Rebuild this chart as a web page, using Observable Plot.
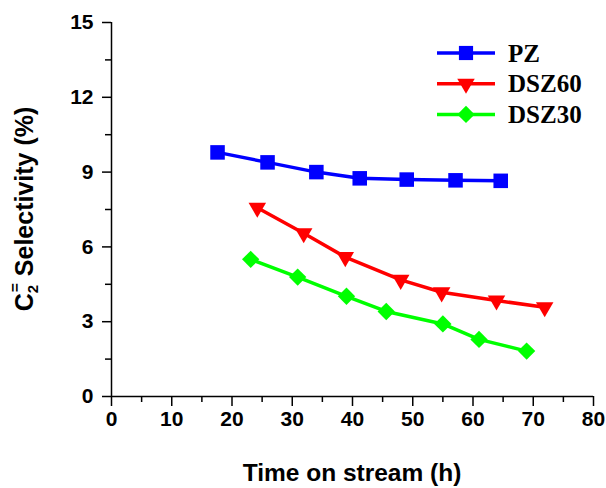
<!DOCTYPE html>
<html>
<head>
<meta charset="utf-8">
<script src="https://cdn.jsdelivr.net/npm/d3@7"></script>
<script src="https://cdn.jsdelivr.net/npm/@observablehq/plot@0.6"></script>
<style>
  html, body { margin: 0; padding: 0; background: #fff; }
  #chart svg { display: block; }
</style>
</head>
<body>
<div id="chart"></div>
<script>
// ---- data ----
const seriesNames = ["PZ", "DSZ60", "DSZ30"];
const pzTime    = [17.6, 25.9, 34.0, 41.2, 49.0, 57.1, 64.6];
const pzSel     = [9.79, 9.39, 9.00, 8.75, 8.70, 8.67, 8.65];
const dsz60Time = [24.2, 31.9, 38.8, 48.0, 54.8, 63.9, 71.9];
const dsz60Sel  = [7.57, 6.55, 5.59, 4.68, 4.18, 3.85, 3.58];
const dsz30Time = [23.1, 30.9, 39.0, 45.6, 55.0, 61.0, 68.9];
const dsz30Sel  = [5.50, 4.79, 4.02, 3.41, 2.91, 2.29, 1.82];
const xTicks = [0, 10, 20, 30, 40, 50, 60, 70, 80];
const yTicks = [0, 3, 6, 9, 12, 15];
const xMinorTicks = [5, 15, 25, 35, 45, 55, 65, 75];
const yMinorTicks = [1.5, 4.5, 7.5, 10.5, 13.5];

// ---- styles ----
const colors = {PZ: "#0000ff", DSZ60: "#ff0000", DSZ30: "#00ff00"};
const symbols = {PZ: "square", DSZ60: "triangle", DSZ30: "diamond2"};
const radii = {PZ: 8.2, DSZ60: 6.5, DSZ30: 7.8};
const rotates = {PZ: 0, DSZ60: 180, DSZ30: 0};

const toRows = (name, xs, ys) => xs.map((t, i) => ({series: name, time: t, sel: ys[i]}));
const rows = {
  PZ: toRows("PZ", pzTime, pzSel),
  DSZ60: toRows("DSZ60", dsz60Time, dsz60Sel),
  DSZ30: toRows("DSZ30", dsz30Time, dsz30Sel)
};

const sans = "'Liberation Sans', Arial, sans-serif";
const serif = "'Liberation Serif', 'Times New Roman', serif";

const marks = [
  Plot.axisX({ticks: xTicks, tickSize: 10, tickPadding: 5, fontSize: 21, fontWeight: "bold", label: null, strokeWidth: 1.5, tickFormat: d3.format("d")}),
  Plot.axisX({ticks: xMinorTicks, tickSize: 6, text: null, label: null, strokeWidth: 1.5}),
  Plot.axisY({ticks: yTicks, tickSize: 9, tickPadding: 9, fontSize: 21, fontWeight: "bold", label: null, strokeWidth: 1.5, tickFormat: d3.format("d")}),
  Plot.axisY({ticks: yMinorTicks, tickSize: 6, text: null, label: null, strokeWidth: 1.5}),
  Plot.ruleX([0], {stroke: "black", strokeWidth: 1.5}),
  Plot.ruleY([0], {stroke: "black", strokeWidth: 1.5})
];
for (const name of seriesNames) {
  marks.push(Plot.line(rows[name], {x: "time", y: "sel", stroke: colors[name], strokeWidth: 3.5}));
  marks.push(Plot.dot(rows[name], {x: "time", y: "sel", symbol: () => symbols[name], fill: colors[name], r: radii[name], rotate: rotates[name], stroke: "none"}));
}

const chart = Plot.plot({
  width: 606,
  height: 488,
  marginLeft: 111,
  marginRight: 13,
  marginTop: 22,
  marginBottom: 92,
  style: {fontFamily: sans, color: "black", background: "white", overflow: "visible"},
  x: {domain: [0, 80]},
  y: {domain: [0, 15]},
  symbol: {type: "identity"},
  marks
});

const svg = d3.select(chart);

// axis titles
svg.append("text")
  .attr("x", 352).attr("y", 481)
  .attr("text-anchor", "middle")
  .attr("font-family", sans).attr("font-weight", "bold").attr("font-size", 24.5)
  .attr("fill", "black")
  .text("Time on stream (h)");

const yt = svg.append("text")
  .attr("transform", "translate(33,209) rotate(-90)")
  .attr("text-anchor", "middle")
  .attr("font-family", sans).attr("font-weight", "bold").attr("font-size", 25)
  .attr("fill", "black");
yt.append("tspan").text("C");
yt.append("tspan").attr("font-size", 15).attr("dy", 5).text("2");
yt.append("tspan").attr("font-size", 15).attr("dx", -7).attr("dy", -18).text("=");
yt.append("tspan").attr("dy", 13).text(" Selectivity (%)");

// legend
const lg = svg.append("g").attr("text-anchor", "start");
seriesNames.forEach((name, i) => {
  const cy = 53 + 30.7 * i;
  const g = lg.append("g").attr("transform", `translate(0,${cy})`);
  g.append("line").attr("x1", 437).attr("x2", 495).attr("y1", 0).attr("y2", 0)
    .attr("stroke", colors[name]).attr("stroke-width", 3.5);
  const symType = {square: d3.symbolSquare, triangle: d3.symbolTriangle, diamond2: d3.symbolDiamond2}[symbols[name]];
  const rr = name === "PZ" ? 8.0 : radii[name];
  g.append("path")
    .attr("d", d3.symbol(symType, Math.PI * rr * rr)())
    .attr("transform", `translate(466,0) rotate(${rotates[name]})`)
    .attr("fill", colors[name]);
  g.append("text").attr("x", 508).attr("y", 0).attr("dy", "0.35em")
    .attr("text-anchor", "start")
    .attr("font-family", serif).attr("font-weight", "bold").attr("font-size", 25)
    .attr("fill", "black").text(name);
});

document.getElementById("chart").appendChild(chart);
</script>
</body>
</html>
